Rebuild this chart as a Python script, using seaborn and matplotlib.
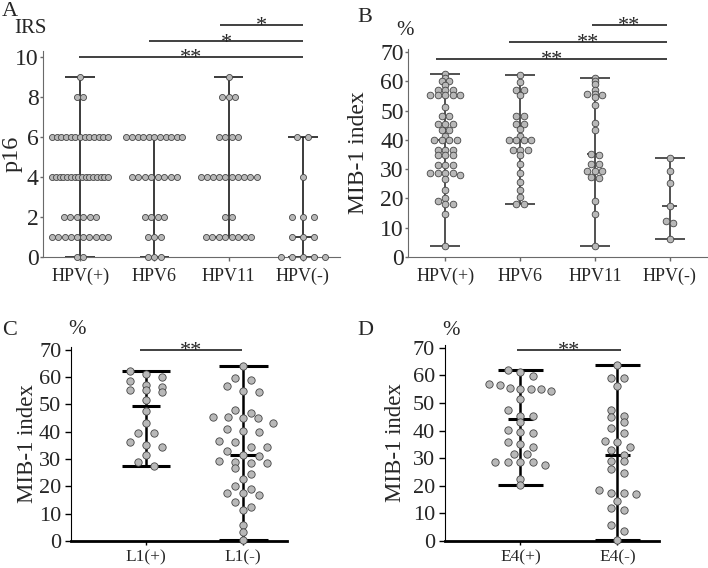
import numpy as np
import pandas as pd
import matplotlib
matplotlib.use('Agg')
import matplotlib.pyplot as plt
import seaborn as sns

sns.set_style('ticks')
plt.rcParams['font.family'] = ['Liberation Serif', 'DejaVu Serif']

# ---- panel A: p16 IRS, number of cases at each score ----
irs_groups = ['HPV(+)', 'HPV6', 'HPV11', 'HPV(-)']
irs_scores = [0, 1, 2, 4, 6, 8, 9]
irs_hpv_pos = [2, 10, 6, 16, 13, 2, 1]
irs_hpv6 = [3, 3, 4, 8, 11, 0, 0]
irs_hpv11 = [0, 8, 2, 10, 4, 3, 1]
irs_hpv_neg = [5, 3, 3, 1, 2, 0, 0]
irs_medians = [4, 4, 4, 1]

# ---- panel B: MIB-1 index (%) by HPV type ----
mib_groups = ['HPV(+)', 'HPV6', 'HPV11', 'HPV(-)']
mib_hpv_pos = [62.4, 61.1, 60, 60, 58.6, 57, 57, 57, 55.5, 55.5, 55.5, 55.5, 55.5,
               51.4, 48, 48, 45.5, 45.5, 45.5, 43.5, 43.5, 41.5, 39.8, 39.8, 39.8,
               39.8, 36.4, 36.4, 36.4, 34.7, 34.7, 34.7, 31.5, 31.5, 31.5, 28.8,
               28.8, 28.8, 28.8, 27.9, 26.8, 23, 20.3, 19, 18.2, 18.2, 14.8, 3.6]
mib_hpv6 = [62.2, 59.8, 57.1, 57.1, 55.2, 48, 48, 45.5, 45.5, 43.8, 41.5, 39.8,
            39.8, 39.8, 39.8, 36.6, 36.6, 36.6, 34.7, 31.9, 28.8, 25.6, 23, 20.5,
            18, 18]
mib_hpv11 = [61.2, 60.1, 59, 56.9, 55.8, 55.8, 55.2, 54.6, 51.8, 45.8, 43.5, 35.3,
             34.7, 31.6, 31.6, 29.3, 29.3, 29.3, 27.5, 27, 19, 14.6, 3.8]
mib_hpv_neg = [33.8, 29.4, 25.3, 17.3, 12.3, 11.6, 6.1]
mib_medians = [39.8, 39.8, 35.3, 17.3]

# ---- panel C: MIB-1 index by L1 ----
l1_groups = ['L1(+)', 'L1(-)']
l1_pos = [62.3, 61.2, 60, 58.7, 57.2, 56.5, 55.3, 55.3, 54.5, 51.6, 47.7, 43.1,
          39.6, 39.4, 36.1, 35.1, 34.3, 31.5, 28.8, 27.4]
l1_neg = [63.9, 59.6, 59, 56.8, 55, 54.7, 48, 47, 45.5, 45.3, 45.2, 45.2, 43.3,
          41.1, 40.3, 39.8, 36.6, 36.3, 34.5, 34.3, 33, 31.5, 31.2, 29.4, 29, 28.6,
          28.4, 26.6, 24.7, 22.6, 20.1, 18.9, 17.6, 17.6, 17, 14.3, 12.3, 11.3,
          5.8, 3.3, 0.3]
l1_medians = [49.6, 31.5]

# ---- panel D: MIB-1 index by E4 ----
e4_groups = ['E4(+)', 'E4(-)']
e4_pos = [62, 61.3, 59.7, 56.8, 56.5, 55.3, 55, 54.9, 54.9, 54.4, 51.4, 47.6,
          45.2, 45.2, 43.2, 40.1, 39.5, 39.2, 35.9, 35.1, 34.1, 31.4, 31.4, 28.7,
          28.7, 28.7, 28.7, 27.4, 22.6, 20.2]
e4_neg = [63.6, 59.2, 58.9, 56.2, 47.6, 45.3, 45, 43.2, 41.1, 39.2, 36.2, 35.9,
          34.1, 33.1, 31.1, 29, 28.9, 26.2, 24.8, 18.6, 17.5, 17.5, 17.2, 14.4,
          12, 11.4, 5.7, 3.5, 0.5]
e4_medians = [44.1, 31.1]

FILL = '#b8b8b8'
EDGE = '#454545'
W, H = 708, 568

fig = plt.figure(figsize=(W / 100, H / 100), dpi=100)


def lane_offsets(values, tol, step_px, max_px, cat_px):
    # group close values into rows, centre each row on the category (dot-plot layout)
    values = np.asarray(values, dtype=float)
    order = np.argsort(-values, kind='stable')
    offs = np.zeros(len(values))
    rows, row, start = [], [], None
    for idx in order:
        if row and start - values[idx] > tol:
            rows.append(row)
            row = []
        if not row:
            start = values[idx]
        row.append(idx)
    if row:
        rows.append(row)
    for row in rows:
        k = len(row)
        st = step_px if k == 1 else min(step_px, max_px / (k - 1))
        for j, idx in enumerate(row):
            offs[idx] = (j - (k - 1) / 2) * st / cat_px
    return offs


def dot_frame(groups, vals_list, tol, step_px, max_px, cat_px):
    frames = []
    for gi, (g, v) in enumerate(zip(groups, vals_list)):
        sp = step_px[gi] if isinstance(step_px, list) else step_px
        o = lane_offsets(v, tol, sp, max_px, cat_px)
        frames.append(pd.DataFrame({'group': g, 'x': gi + o, 'value': v}))
    return pd.concat(frames, ignore_index=True)


def style_axis(ax, spine_col, ysize, xsize, ypad, xpad, tlen):
    sns.despine(ax=ax)
    for s in ['left', 'bottom']:
        ax.spines[s].set_color(spine_col)
    ax.tick_params(axis='y', direction='out', length=tlen, width=1, color=spine_col,
                   labelsize=ysize, pad=ypad)
    ax.tick_params(axis='x', direction='out', length=3, width=1, color=spine_col,
                   labelsize=xsize, pad=xpad)
    ax.set_xlabel('')


def range_bars(ax, groups_vals, medians, cap, mcap, lw, clw, color):
    for i, (v, m) in enumerate(zip(groups_vals, medians)):
        lo, hi = min(v), max(v)
        ax.vlines(i, lo, hi, color=color, lw=lw, zorder=2, clip_on=False)
        ax.hlines([lo, hi], i - cap, i + cap, color=color, lw=clw, zorder=2, clip_on=False)
        ax.hlines(m, i - mcap, i + mcap, color=color, lw=clw, zorder=2, clip_on=False)


def sig_bar(ax, x0, x1, y, label, lw=1.2, color='#202020', fs=16):
    ax.plot([x0, x1], [y, y], color=color, lw=lw, clip_on=False, solid_capstyle='butt')
    ax.annotate(label, xy=((x0 + x1) / 2, y), xytext=(0, -4.5), textcoords='offset points',
                ha='center', va='baseline', fontsize=fs, annotation_clip=False)


def ylabel_at(ax, text, right_px, size):
    ax.set_ylabel(text, fontsize=size)
    l, b, w, h = ax.get_position().bounds
    ax.yaxis.set_label_coords((right_px - l * W) / (w * W), 0.5)


def dots(ax, df, s):
    sns.scatterplot(data=df, x='x', y='value', ax=ax, s=s, color=FILL, edgecolor=EDGE,
                    linewidth=0.6, zorder=3, clip_on=False, legend=False)


# ---------------- A ----------------
posA = [0.0607, 0.5475, 0.4195, 0.3627]
axA = fig.add_axes(posA)
irs_vals = [np.repeat(irs_scores, c).tolist() for c in [irs_hpv_pos, irs_hpv6, irs_hpv11, irs_hpv_neg]]
df_a = dot_frame(irs_groups, irs_vals, 0.01, [6.5, 6.5, 6.5, 11], 56, posA[2] * W / 4)
range_bars(axA, irs_vals, irs_medians, 0.2, 0.12, 1.2, 1.2, '#1a1a1a')
dots(axA, df_a, 19)
axA.set_xlim(-0.5, 3.5)
axA.set_ylim(0, 10.3)
axA.set_yticks(range(0, 11, 2))
axA.set_xticks(range(4))
axA.set_xticklabels(irs_groups)
style_axis(axA, '#6a6a6a', 17, 13, 1, 5, 2)
ylabel_at(axA, 'p16', 23, 17.5)
sig_bar(axA, -0.01, 3.0, 10.0, '**')
sig_bar(axA, 0.93, 3.0, 10.78, '*')
sig_bar(axA, 1.89, 3.0, 11.6, '*')

# ---------------- B ----------------
posB = [0.5763, 0.5475, 0.4223, 0.366]
axB = fig.add_axes(posB)
mib_vals = [mib_hpv_pos, mib_hpv6, mib_hpv11, mib_hpv_neg]
df_b = dot_frame(mib_groups, mib_vals, 1.0, 7.5, 32, posB[2] * W / 4)
range_bars(axB, mib_vals, mib_medians, 0.2, 0.1, 1.2, 1.2, '#333333')
dots(axB, df_b, 23)
axB.set_xlim(-0.5, 3.5)
axB.set_ylim(0, 71)
axB.set_yticks(range(0, 71, 10))
axB.set_xticks(range(4))
axB.set_xticklabels(mib_groups)
style_axis(axB, '#6a6a6a', 17, 13, 1, 5, 2)
ylabel_at(axB, 'MIB-1 index', 369, 17)
sig_bar(axB, -0.12, 2.96, 67.8, '**')
sig_bar(axB, 0.85, 2.96, 73.4, '**')
sig_bar(axB, 1.96, 2.96, 79.2, '**')

# ---------------- C ----------------
posC = [0.1003, 0.0475, 0.3051, 0.3415]
axC = fig.add_axes(posC)
l1_vals = [l1_pos, l1_neg]
df_c = dot_frame(l1_groups, l1_vals, 2.4, 16, 60, posC[2] * W / 2.22)
range_bars(axC, l1_vals, l1_medians, 0.25, 0.14, 1.8, 2.2, 'black')
dots(axC, df_c, 28)
axC.set_xlim(-0.77, 1.45)
axC.set_ylim(0, 71)
axC.set_yticks(range(0, 71, 10))
axC.set_xticks(range(2))
axC.set_xticklabels(l1_groups)
style_axis(axC, 'black', 16, 12.5, 3, 3, 4)
axC.spines['bottom'].set_linewidth(2)
ylabel_at(axC, 'MIB-1 index', 38, 16.5)
sig_bar(axC, -0.06, 0.99, 70.0, '**')

# ---------------- D ----------------
posD = [0.628, 0.0475, 0.303, 0.345]
axD = fig.add_axes(posD)
e4_vals = [e4_pos, e4_neg]
df_d = dot_frame(e4_groups, e4_vals, 2.4, 12.5, 62, posD[2] * W / 2.21)
range_bars(axD, e4_vals, e4_medians, 0.23, 0.13, 1.8, 2.2, 'black')
dots(axD, df_d, 28)
axD.set_xlim(-0.78, 1.43)
axD.set_ylim(0, 71)
axD.set_yticks(range(0, 71, 10))
axD.set_xticks(range(2))
axD.set_xticklabels(e4_groups)
style_axis(axD, 'black', 16, 12.5, 3, 3, 4)
axD.spines['bottom'].set_linewidth(2)
ylabel_at(axD, 'MIB-1 index', 406, 16.5)
sig_bar(axD, -0.03, 1.04, 69.3, '**')

# panel letters and unit labels
for txt, x, y in [('A', 2, 2), ('B', 357, 8), ('C', 2, 321), ('D', 357, 321)]:
    fig.text(x / W, 1 - y / H, txt, fontsize=16, va='top', ha='left')
for txt, x, y in [('IRS', 14, 19), ('%', 396, 21), ('%', 68, 320), ('%', 442, 321)]:
    fig.text(x / W, 1 - y / H, txt, fontsize=15, va='top', ha='left')

fig.savefig('out.png', dpi=100)
